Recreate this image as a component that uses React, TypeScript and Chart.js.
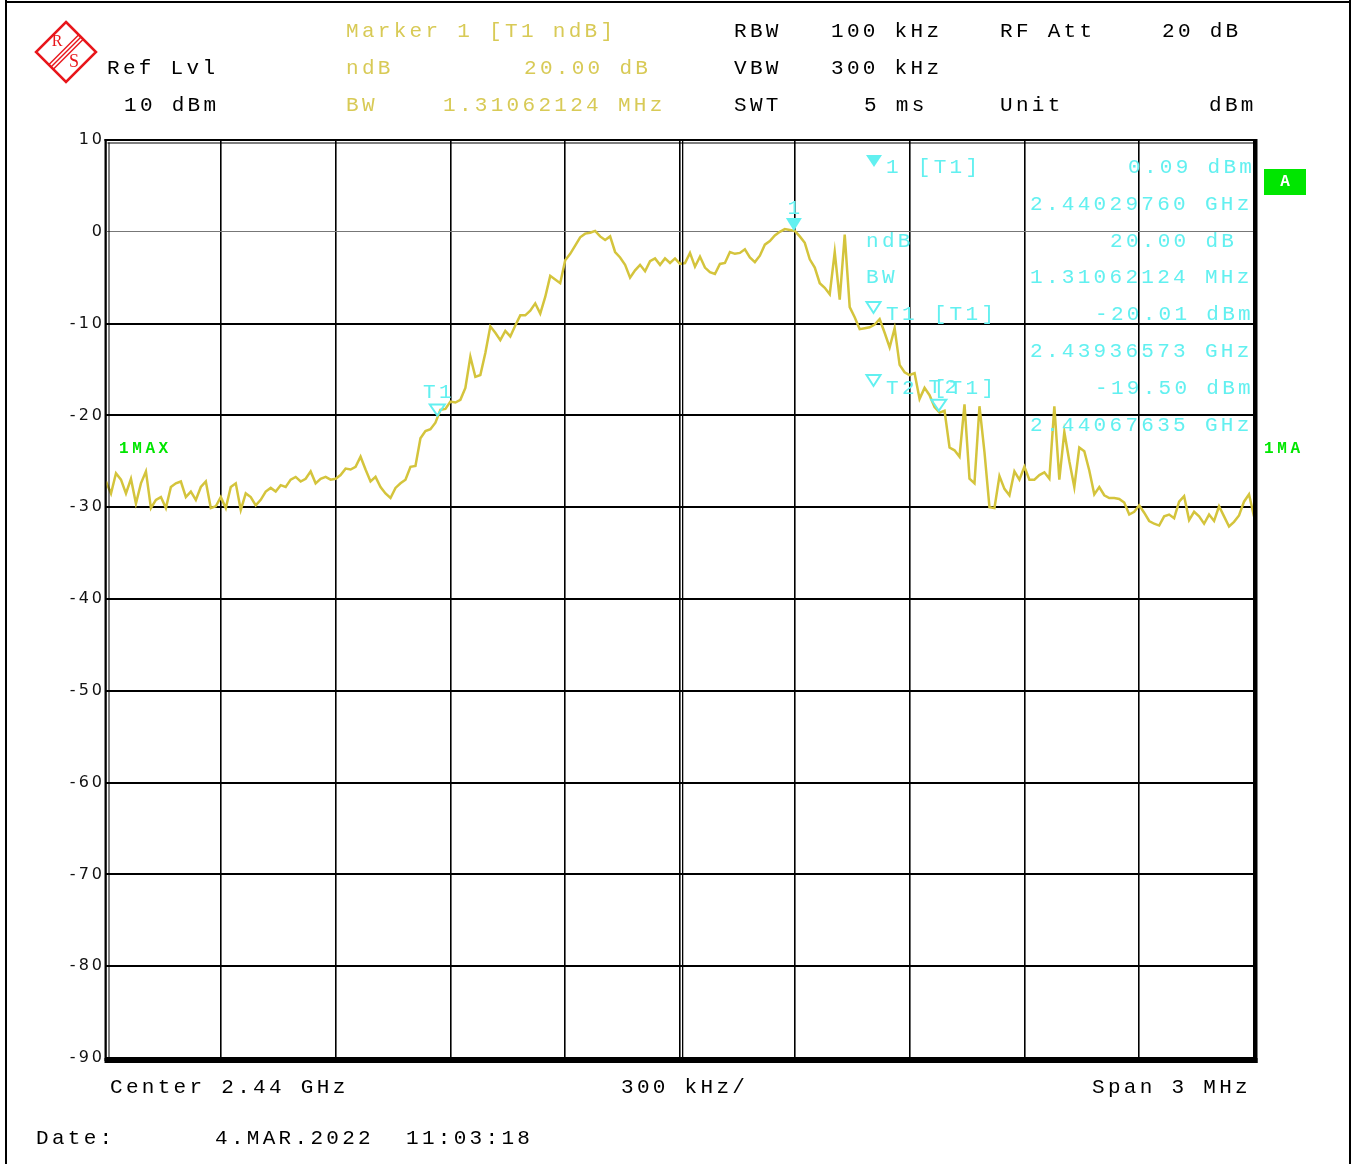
import React, { useEffect, useRef } from "react";
import { Chart, registerables } from "chart.js";

Chart.register(...registerables);

const W = 1357;
const H = 1164;

// Sweep settings
const START_GHZ = 2.4385;
const SPAN_KHZ = 3000;
const DIV_KHZ = 300;
const REF_LEVEL = 10;
const BOTTOM_LEVEL = -90;
const LEVEL_STEP = 10;

// Trace 1 (max hold), dBm, uniform sweep points across the span
const LEVELS: number[] = [
  -27.2, -28.5, -26.3, -27.0, -28.5, -26.9, -29.6, -27.4, -26.1, -30.1,
  -29.2, -28.9, -30.1, -27.8, -27.4, -27.2, -28.9, -28.3, -29.2, -27.8,
  -27.2, -30.1, -29.9, -28.9, -30.1, -27.8, -27.4, -30.3, -28.5, -28.9,
  -29.8, -29.2, -28.3, -27.9, -28.3, -27.6, -27.8, -27.0, -26.7, -27.2,
  -26.9, -26.1, -27.4, -26.9, -26.7, -27.0, -26.9, -26.5, -25.8, -25.9,
  -25.6, -24.5, -25.9, -27.2, -26.7, -27.8, -28.5, -29.0, -27.9, -27.4,
  -27.0, -25.6, -25.5,
  -22.5, -21.7, -21.5, -20.8, -19.4, -19.3, -18.5, -18.6, -18.3, -17.0,
  -13.6, -15.8, -15.6, -13.2, -10.3, -11.0, -11.8, -10.8, -11.4, -10.2,
  -9.1, -9.1, -8.6, -7.8, -8.9, -7.1, -4.8, -5.2, -5.6, -3.1,
  -2.4, -1.5, -0.6, -0.2, -0.1, 0.1, -0.5,
  -0.9, -0.5, -2.2, -2.8, -3.6, -5.0, -4.2, -3.6, -4.3, -3.2,
  -2.9, -3.6, -2.9, -3.4, -2.9, -3.5, -3.4, -2.3, -3.8, -2.7,
  -3.9, -4.4, -4.6, -3.5, -3.4, -2.2, -2.4, -2.3, -1.9, -2.8,
  -3.3, -2.6, -1.4, -1.0, -0.4, 0.0, 0.3, 0.2, 0.1,
  -0.5, -1.2, -3.0, -3.9, -5.6, -6.1, -6.8, -2.2, -7.4, -0.3,
  -8.2, -9.3, -10.6, -10.5, -10.4, -10.1, -9.5, -11.0, -12.6, -10.5,
  -14.5, -15.3, -15.6, -15.4, -18.2, -17.0, -17.8, -19.1, -19.7, -19.5,
  -23.5, -23.8, -24.5, -18.8, -26.9, -27.4, -19.0, -24.0, -30.0, -30.1,
  -26.6, -28.0,
  -28.7, -26.1, -27.0, -25.6, -27.0, -27.0, -26.5, -26.2, -26.9, -19.0,
  -27.0, -21.8, -25.0, -27.8, -23.5, -23.9, -26.0, -28.6, -27.8, -28.7,
  -29.0, -29.0, -29.1, -29.5, -30.8, -30.5, -29.8, -30.6, -31.5, -31.8,
  -32.0, -31.0, -30.8, -31.2, -29.4, -28.8, -31.4, -30.5, -31.0, -31.8,
  -30.8, -31.5, -29.9, -31.0, -32.1, -31.6, -30.9, -29.4, -28.6, -31.0,
];
const FREQ_KHZ: number[] = LEVELS.map((_, i) => (i * SPAN_KHZ) / (LEVELS.length - 1));

// Markers
const MARKER_LABELS = ["1", "T1", "T2"];
const MARKER_FREQ_KHZ = [1797.6, 865.73, 2176.35];
const MARKER_LEVELS = [0.09, -20.01, -19.5];
const MARKER_FILLED = [true, false, false];

const NDB = "20.00";
const BW_MHZ = "1.31062124";

const MONO = '"Liberation Mono", "DejaVu Sans Mono", monospace';
const MAIN_FONT = `21px ${MONO}`;
const MAIN_SP = 3.3;
const BLACK = "#000000";
const YEL = "#D8CA56";
const TRACE = "#D4C43C";
const CYAN = "#62F0F0";
const GREEN = "#00E600";
const RED = "#E8161B";

function txt(
  ctx: CanvasRenderingContext2D,
  s: string,
  x: number,
  y: number,
  color: string = BLACK,
  font: string = MAIN_FONT,
  sp: number = MAIN_SP,
  align: CanvasTextAlign = "left"
) {
  ctx.font = font;
  ctx.fillStyle = color;
  (ctx as any).letterSpacing = `${sp}px`;
  ctx.textAlign = align;
  ctx.textBaseline = "middle";
  ctx.fillText(s, align === "center" ? x + sp / 2 : x, y);
}

function tri(
  ctx: CanvasRenderingContext2D,
  cx: number,
  tipY: number,
  w: number,
  h: number,
  filled: boolean
) {
  ctx.beginPath();
  ctx.moveTo(cx - w / 2, tipY - h);
  ctx.lineTo(cx + w / 2, tipY - h);
  ctx.lineTo(cx, tipY);
  ctx.closePath();
  if (filled) {
    ctx.fillStyle = CYAN;
    ctx.fill();
  } else {
    ctx.strokeStyle = CYAN;
    ctx.lineWidth = 2;
    ctx.stroke();
  }
}

const ghz = (kHz: number) => (START_GHZ + kHz / 1e6).toFixed(8) + " GHz";
const dbm = (v: number) => v.toFixed(2) + " dBm";

const overlay = {
  id: "overlay",
  beforeDraw(chart: any) {
    (chart.ctx as any).letterSpacing = "3px";
  },
  afterDraw(chart: any) {
    const ctx: CanvasRenderingContext2D = chart.ctx;
    const xs = chart.scales.x;
    const ys = chart.scales.y;
    const a = chart.chartArea;
    ctx.save();

    // page frame
    ctx.fillStyle = BLACK;
    ctx.fillRect(5, 0, 2, H);
    ctx.fillRect(5, 1, 1346, 2);
    ctx.fillRect(1349, 0, 2, H);

    // centre double line
    const cx = xs.getPixelForValue(SPAN_KHZ / 2);
    ctx.fillRect(cx + 2, a.top, 1.3, a.bottom - a.top);

    // plot frame
    ctx.fillRect(a.left - 1.5, a.top - 1, a.right - a.left + 4, 2);
    ctx.fillRect(a.left + 1.5, a.top + 2.5, a.right - a.left - 1.5, 1);
    ctx.fillRect(a.left - 1.5, a.top - 1, 2, a.bottom - a.top + 4);
    ctx.fillRect(a.left + 2.5, a.top + 2.5, 1, a.bottom - a.top - 2.5);
    ctx.fillRect(a.right - 1, a.top - 1, 4.5, a.bottom - a.top + 6);
    ctx.fillRect(a.left - 1.5, a.bottom, a.right - a.left + 5, 5);

    // R&S logo
    ctx.strokeStyle = RED;
    ctx.lineWidth = 2.5;
    ctx.beginPath();
    ctx.moveTo(66, 22);
    ctx.lineTo(96, 52);
    ctx.lineTo(66, 82);
    ctx.lineTo(36, 52);
    ctx.closePath();
    ctx.stroke();
    ctx.lineWidth = 1.4;
    for (const d of [-3.2, 0, 3.2]) {
      const o = d * 0.7071;
      ctx.beginPath();
      ctx.moveTo(81 + o, 37 + o);
      ctx.lineTo(51 + o, 67 + o);
      ctx.stroke();
    }
    txt(ctx, "R", 57, 42, RED, '16px "Liberation Serif", serif', 0, "center");
    txt(ctx, "S", 74, 62, RED, '18px "Liberation Serif", serif', 0, "center");

    // header
    txt(ctx, "Marker 1 [T1 ndB]", 346, 31, YEL);
    txt(ctx, "RBW", 734, 31);
    txt(ctx, "100 kHz", 831, 31);
    txt(ctx, "RF Att", 1000, 31);
    txt(ctx, "20 dB", 1162, 31);
    txt(ctx, "Ref Lvl", 107, 68);
    txt(ctx, "ndB", 346, 68, YEL);
    txt(ctx, `${NDB} dB`, 524, 68, YEL);
    txt(ctx, "VBW", 734, 68);
    txt(ctx, "300 kHz", 831, 68);
    txt(ctx, `${REF_LEVEL} dBm`, 124, 105);
    txt(ctx, "BW", 346, 105, YEL);
    txt(ctx, `${BW_MHZ} MHz`, 443, 105, YEL);
    txt(ctx, "SWT", 734, 105);
    txt(ctx, "5 ms", 864, 105);
    txt(ctx, "Unit", 1000, 105);
    txt(ctx, "dBm", 1209, 105);

    // footer
    txt(ctx, "Center 2.44 GHz", 110, 1087);
    txt(ctx, `${DIV_KHZ} kHz/`, 621, 1087);
    txt(ctx, `Span ${SPAN_KHZ / 1000} MHz`, 1092, 1087);
    txt(ctx, "Date:", 36, 1138);
    txt(ctx, "4.MAR.2022", 215, 1138);
    txt(ctx, "11:03:18", 406, 1138);

    // trace / screen labels
    txt(ctx, "1MAX", 119, 449, GREEN, `bold 16px ${MONO}`, 3.6);
    txt(ctx, "1MA", 1264, 449, GREEN, `bold 16px ${MONO}`, 3.6);
    ctx.fillStyle = GREEN;
    ctx.fillRect(1264, 169, 42, 26);
    txt(ctx, "A", 1285, 182, "#FFFFFF", `bold 16px ${MONO}`, 0, "center");

    // marker table
    tri(ctx, 874, 167, 16, 12, true);
    txt(ctx, `${MARKER_LABELS[0]} [T1]`, 886, 167, CYAN);
    txt(ctx, dbm(MARKER_LEVELS[0]), 1128, 167, CYAN);
    txt(ctx, ghz(MARKER_FREQ_KHZ[0]), 1030, 204, CYAN);
    txt(ctx, "ndB", 866, 241, CYAN);
    txt(ctx, `${NDB} dB`, 1110, 241, CYAN);
    txt(ctx, "BW", 866, 277, CYAN);
    txt(ctx, `${BW_MHZ} MHz`, 1030, 277, CYAN);
    tri(ctx, 873.5, 313, 14, 11, false);
    txt(ctx, `${MARKER_LABELS[1]} [T1]`, 886, 314, CYAN);
    txt(ctx, dbm(MARKER_LEVELS[1]), 1095, 314, CYAN);
    txt(ctx, ghz(MARKER_FREQ_KHZ[1]), 1030, 351, CYAN);
    tri(ctx, 873.5, 386, 14, 11, false);
    txt(ctx, `${MARKER_LABELS[2]} [T1]`, 886, 388, CYAN);
    txt(ctx, dbm(MARKER_LEVELS[2]), 1095, 388, CYAN);
    txt(ctx, ghz(MARKER_FREQ_KHZ[2]), 1030, 425, CYAN);

    // markers on trace
    MARKER_FREQ_KHZ.forEach((f, k) => {
      const px = xs.getPixelForValue(f);
      const py = ys.getPixelForValue(MARKER_LEVELS[k]);
      if (MARKER_FILLED[k]) {
        tri(ctx, px, py, 16, 13, true);
      } else {
        tri(ctx, px, py, 15, 11, false);
      }
      txt(ctx, MARKER_LABELS[k], px + (k === 2 ? 4 : 0), py - 23, CYAN, MAIN_FONT, MAIN_SP, "center");
    });

    ctx.restore();
    (ctx as any).letterSpacing = "0px";
  },
};

export default function App() {
  const ref = useRef<HTMLCanvasElement | null>(null);

  useEffect(() => {
    if (!ref.current) return;
    const chart = new Chart(ref.current, {
      type: "line",
      data: {
        datasets: [
          {
            label: "Trace 1",
            data: FREQ_KHZ.map((f, i) => ({ x: f, y: LEVELS[i] })),
            borderColor: TRACE,
            borderWidth: 2.5,
            pointRadius: 0,
            tension: 0,
            fill: false,
          },
        ],
      },
      options: {
        animation: false,
        responsive: false,
        maintainAspectRatio: false,
        events: [],
        layout: { padding: { left: 0, top: 140, right: 103, bottom: 106 } },
        plugins: { legend: { display: false }, tooltip: { enabled: false }, title: { display: false } },
        scales: {
          x: {
            type: "linear",
            min: 0,
            max: SPAN_KHZ,
            ticks: { stepSize: DIV_KHZ, display: false },
            grid: { color: BLACK, lineWidth: 1.6, drawTicks: false },
            border: { display: false },
            afterFit: (s: any) => {
              s.height = 0;
            },
          },
          y: {
            type: "linear",
            min: BOTTOM_LEVEL,
            max: REF_LEVEL,
            ticks: {
              stepSize: LEVEL_STEP,
              padding: 1,
              color: "#111",
              font: { family: '"DejaVu Sans", sans-serif', size: 16 },
            },
            grid: {
              color: (c: any) => (c.tick && c.tick.value === 0 ? "#777" : BLACK),
              lineWidth: (c: any) => (c.tick && c.tick.value === 0 ? 1 : 2),
              drawTicks: false,
            },
            border: { display: false },
            afterFit: (s: any) => {
              s.width = 106;
            },
          },
        },
      },
      plugins: [overlay],
    });
    return () => chart.destroy();
  }, []);

  return (
    <div style={{ position: "absolute", left: 0, top: 0, width: W, height: H, background: "#fff" }}>
      <canvas ref={ref} width={W} height={H} style={{ display: "block", width: W, height: H }} />
    </div>
  );
}
